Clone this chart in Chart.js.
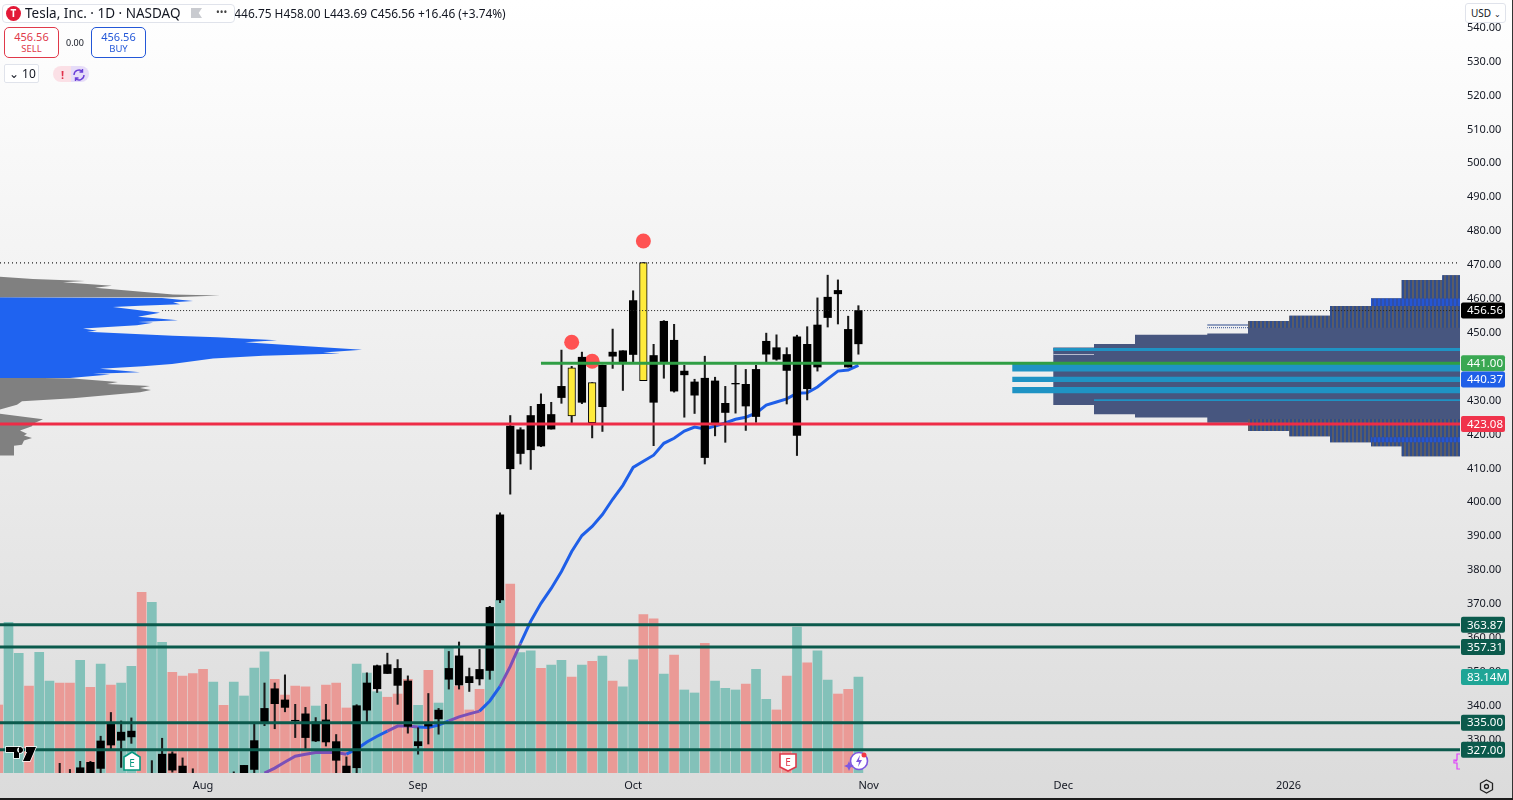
<!DOCTYPE html>
<html>
<head>
<meta charset="utf-8">
<title>Tesla, Inc. 1D</title>
<script src="https://cdn.jsdelivr.net/npm/chart.js@4/dist/chart.umd.min.js"></script>
<style>
  html, body { margin: 0; padding: 0; background: #fff; }
  body { width: 1513px; height: 800px; overflow: hidden; font-family: 'Noto Sans', sans-serif; color: #131722; }
  #wrap { position: relative; width: 1513px; height: 800px; overflow: hidden; background: linear-gradient(#ffffff, #dbdbdb); }
  #wrap::after { content: ''; position: absolute; left: 0; right: 0; bottom: 0; height: 2px; background: #1c1c1c; }
  #edge { position: absolute; top: 0; bottom: 0; right: 0; width: 1px; background: #333; }
  canvas { position: absolute; left: 0; top: 0; }
  .ui { position: absolute; white-space: nowrap; }
  #ohlc { left: 225px; top: 4px; font-size: 11.9px; line-height: 18px; }
  #title { left: 2px; top: 4px; width: 233px; height: 19px; background: #fff; border: 1px solid #e0e3eb; border-radius: 4px; box-sizing: border-box; font-size: 13.5px; line-height: 17px; }
  #title span.name { position: absolute; left: 22px; top: 0; }
  #logo { position: absolute; left: 3px; top: 1px; width: 15px; height: 15px; border-radius: 50%; background: #e31937; color: #fff; font-size: 10px; line-height: 15px; text-align: center; font-weight: 700; }
  #flag { position: absolute; left: 188px; top: 3px; width: 11px; height: 10px; background: #c9cbd0; clip-path: polygon(0 0, 100% 0, 70% 50%, 100% 100%, 0 100%); }
  #more { position: absolute; left: 213px; top: -1px; font-size: 10px; letter-spacing: 0; color: #444; }
  .trade { width: 55px; height: 31px; border: 1px solid; border-radius: 5px; background: #fff; box-sizing: border-box; text-align: center; font-size: 11px; line-height: 13px; padding-top: 2px; }
  .trade small { display: block; font-size: 9.5px; line-height: 12px; }
  #sell { left: 4px; top: 27px; border-color: #e0394a; color: #e0394a; }
  #buy { left: 91px; top: 27px; border-color: #2458d8; color: #2458d8; }
  #spread { left: 66px; top: 36px; font-size: 9px; }
  #qty { left: 4px; top: 64px; width: 35px; height: 19px; background: #fff; border: 1px solid #e0e3eb; border-radius: 2px; box-sizing: border-box; font-size: 12px; line-height: 17px; padding-left: 4px; }
  #pill { left: 53px; top: 66px; width: 36px; height: 16px; border-radius: 8px; background: linear-gradient(90deg, #fbe0e6 50%, #e6dcf8 50%); }
  #usd { left: 1465px; top: 3px; width: 41px; height: 20px; background: #fff; border: 1px solid #e0e3eb; border-radius: 3px; box-sizing: border-box; font-size: 10px; line-height: 18px; padding-left: 5px; }
</style>
</head>
<body>
<div id="wrap">
  <canvas id="chart" width="1513" height="800"></canvas>
  <div id="ohlc" class="ui">O446.75 H458.00 L443.69 C456.56 +16.46 (+3.74%)</div>
  <div id="title" class="ui"><div id="logo">T</div><span class="name">Tesla, Inc. · 1D · NASDAQ</span><div id="flag"></div><div id="more">•••</div></div>
  <div id="sell" class="ui trade">456.56<small>SELL</small></div>
  <div id="spread" class="ui">0.00</div>
  <div id="buy" class="ui trade">456.56<small>BUY</small></div>
  <div id="qty" class="ui">⌄ 10</div>
  <div id="pill" class="ui"><svg width="36" height="16"><text x="8" y="12" font-size="11" font-weight="700" fill="#e0304a" font-family="Noto Sans">!</text><path d="M21 8a5 5 0 0 1 8.5-3.5M31 8a5 5 0 0 1-8.5 3.5M29.5 2v3h-3M22.5 14v-3h3" fill="none" stroke="#6a3fd8" stroke-width="1.4"/></svg></div>
  <div id="usd" class="ui">USD <span style="font-size:8px">⌄</span></div>
  <svg class="ui" style="left:4px;top:745px" width="34" height="20"><path d="M2 2h13v11h-5V7H2z M22 2h10l-6 14h-7l4-9h-1z M16 2a3 3 0 1 0 .1 0" fill="#000" stroke="#fff" stroke-width="1.5" paint-order="stroke"/></svg>
  <svg class="ui" style="left:122px;top:751px" width="20" height="21"><path d="M10 1l8 5v13H2V6z" fill="#fff" stroke="#089981" stroke-width="1.6"/><text x="10" y="15.5" font-size="10" text-anchor="middle" fill="#089981" font-family="Noto Sans">E</text></svg>
  <svg class="ui" style="left:778px;top:752px" width="20" height="21"><path d="M2 2h16v13l-8 4-8-4z" fill="#fff" stroke="#e0394a" stroke-width="1.6"/><text x="10" y="14" font-size="10" text-anchor="middle" fill="#e0394a" font-family="Noto Sans">E</text></svg>
  <svg class="ui" style="left:844px;top:751px" width="26" height="22"><circle cx="15" cy="10" r="8.5" fill="#fff" stroke="#7e57e0" stroke-width="1.6"/><path d="M16 4l-4 7h3l-1 5 4-7h-3z" fill="#7e57e0"/><path d="M5 10l1.5 3.5L10 15l-3.5 1.5L5 20l-1.5-3.5L0 15l3.500-1.500z" fill="#7e57e0"/><circle cx="20" cy="4" r="2.500" fill="#f23645"/></svg>
  <svg class="ui" style="left:1452px;top:753px" width="10" height="18"><path d="M8 1H5v6H2v3h3v6h3M3 8h2" fill="none" stroke="#e040fb" stroke-width="1.200"/></svg>
  <svg class="ui" style="left:1479px;top:779px" width="15" height="15"><path d="M7.500 1l6 3.300v6.400l-6 3.300-6-3.300V4.300z" fill="none" stroke="#222" stroke-width="1.300"/><circle cx="7.500" cy="7.500" r="2" fill="none" stroke="#222" stroke-width="1.300"/></svg>
  <div id="edge"></div>
</div>
<script>
// bar index 0 is the first bar on screen, 84 is Oct 31
const xMin = 0.17, xMax = 142.75;
const priceMin = 320.15, priceMax = 548.17;
const volMax = 669.4;

const monthTicks = [20, 41, 62, 85, 104, 126];
const monthLabels = ['Aug', 'Sep', 'Oct', 'Nov', 'Dec', '2026'];

const volumes = [58.9,130.5,103.7,75.3,104.5,79.7,77.9,77.9,97.6,74.2,94.4,76.2,77.9,92.4,156.5,147.8,113.2,87.2,84,86,89.8,78.8,58.6,78.8,66.7,90.9,105,81.1,67.5,75.3,74.7,58,76.2,77.9,56.3,94.4,86.6,70.4,65.6,68.4,81.1,58.6,88.9,60.6,108,75.3,54.6,72.5,112.6,149.8,163.7,104.2,105.9,90.7,93.5,97.6,83.1,93.5,96.7,101.3,79.7,74.7,98.1,137.1,133.4,85.7,102.2,71.9,69.3,112.3,79.7,73.4,71.9,77.1,89.8,63.8,54.6,84,126.4,95.3,105.9,80.5,68.4,72.5,83.14];
const volDirList = 'd uu d uu dd u d u d uu d uu dddd u d uuuu dddd u ddd uuu ddd u d uu ddd uu d uu d uu d u d u d uu dd u d uu d uuu d uu dd u d uu dd u'.replace(/\s/g, '').split('');

const highs = [null,null,null,null,null,null,323,321.2,323.6,323.6,331,338,335.5,336.4,null,323.8,330.4,326.4,324.6,321.4,null,null,null,320.5,322.4,335.1,346.7,346.7,349.1,340.4,339.5,336.5,340.4,331.5,324.9,340.3,349.7,352,355.5,353.6,348.8,333.5,343.6,339.2,356,358.8,351.1,356.6,369.3,396.9,425.6,422,428.3,432,429.5,444.9,440.1,444.3,435.3,440.5,451.1,444.7,462.4,470.7,446.6,453.6,452.5,440.4,436.3,443.1,436.9,434.2,440.4,439.2,440.4,449.9,449.4,445.6,449.3,451.8,460.3,467,465.6,454.9,458];
const bodyTops = [null,null,null,null,null,null,null,null,321.7,323.3,329.6,334.6,332.2,332.5,null,null,325.7,325.8,322.2,null,null,null,null,null,322.4,329.7,339.2,345,341.7,335.7,337.6,335.2,335.8,329.4,322.2,340,346.7,351.8,352.1,351,347.3,329.4,335.1,338.7,351,354.7,348.6,350.7,369,396.3,422.5,421.4,425.6,428.9,425.9,434.2,439.7,442.8,435.3,440.4,444.3,444.7,459.5,470.7,443.3,453.4,447.8,438.7,435.5,436.6,435.8,429.2,435.1,434.8,439.2,447.5,445.6,443.6,448.8,446.6,452.3,460.5,462.5,451,456.56];
const bodyBottoms = [null,null,null,null,null,null,null,null,319,319,321.5,328.4,329.8,330.8,null,null,319,321,316,null,null,null,null,null,320,321.2,334.8,340.6,339.5,335.5,330.6,329.6,329.3,323.9,320.2,321.7,338.7,345,349.5,346,333.9,328.2,334,336.1,347.8,346.1,346.8,347.9,350.4,371.2,409.9,414.4,415.5,416.6,421.6,430.9,425.5,429.5,423.5,428.2,443.1,441.5,443.6,435.9,429.5,441.5,432.8,437.6,431.6,413.2,423.4,426.5,434.9,428.4,425.3,443.7,442.2,438.9,419.7,433.5,439.9,454.5,461.5,439.9,446.75];
const lows = [null,null,null,null,null,null,319,319,317,317,320,327.1,321.8,328.9,null,319,317,320.4,312,319,null,null,null,319,319,320,334.1,333.2,338.2,330.6,326.9,329.4,328.1,320,318,320,335.2,343.9,349.5,340.4,331.9,325.7,328.7,331.6,344.9,344.9,344.2,346.1,347.8,370.4,402.4,411.3,409.7,416.4,421.6,429.2,423.5,429.1,419,420.9,439.5,433,441.3,435.9,416.7,436.6,432.5,425.1,426.2,411.3,419.6,417.7,426.3,421.2,423.6,441.1,441.9,429,413.8,430.2,438.7,451.7,452.6,439.9,443.69];
const yellowBars = [56, 58, 63];

// 20 period average, starts where it comes into view
const maStart = 26;
const maValues = [320.1,321.6,323.4,325.1,325.7,326.2,326.3,326.2,325.7,327.2,329.3,331,332.5,334,334,333.7,333.6,334.3,335.5,336.7,337.6,338.4,341.4,345.7,351.6,358.4,364.9,370.2,374.6,379.6,385.5,390.2,392.9,396.4,400.9,405,410.3,412.1,413.9,417.4,418.9,421,422.2,421.6,422.5,423.4,424.5,425.1,426.3,428.7,429.6,430.5,432.2,432.3,434,436.4,438.7,439,440.37];
const maPurple = [[26, 34], [38, 41], [44, 47], [49, 51]];

const signalX = [56, 58, 63];
const signalY = [447.2, 441.6, 477.1];

// left side volume profile, price and width of each outline point
const profTopPrices = [466.5,465.9,465.6,465.3,464.9,463.9,463.3,462.3,461.3,461,460.5,460.5];
const profTopWidths = [0,33,60,85,63,112,95,133,173,220,173,0];
const profBluePrices = [460.5,460.3,459.4,459,458.4,458,457.6,455.9,454.7,453.7,453.2,453,452.2,451.3,450.6,450.3,449.1,448.7,447.8,447.2,446,445,444.2,443.9,443.2,442.4,440.8,440.1,439.4,438.4,437.9,437.7,436.7,436.7];
const profBlueWidths = [0,162,193,173,180,140,113,160,138,178,138,153,137,83,97,87,173,217,277,245,307,362,323,340,263,213,172,143,100,140,93,110,70,0];
const profMidPrices = [436.9,436.5,435.5,434.9,434.3,433.7,433.1,432.5,430.7,429.8,428.8,427.4];
const profMidWidths = [0,73,118,107,150,140,151,140,73,22,17,0];
const profLowPrices = [426.1,424.5,423.2,422.4,421.2,420.2,419.7,419,418.2,417,416.7,413.8,413.8];
const profLowWidths = [0,43,33,32,20,27,24,32,24,22,14,14,0];

// right side fixed range profile, narrowest column first
const fixedWidths = [17.7,58.3,89,130,170.7,212,252.7,325,366,406.7];
const fixedTops = [467,465.6,460.1,457.9,455,453.5,449.8,449.4,446.7,445.7];
const fixedBottoms = [413.6,416.5,417.7,419.5,421,423.5,425,426,428.7,430.1];
const bandTops = [445.5,441.3,437,434,430.4];
const bandBottoms = [444.6,438.6,435.5,432.2,429.9];
const bandWidths = [406.7,447.7,447.7,447.7,366];
const stripeSplitTop = 451.5, stripeSplitBottom = 424.6;
const hotTops = [460.1, 419.2], hotBottoms = [457.9, 417.7], hotWidth = 89;

const greenLevel = 441, redLevel = 423.08;
const tealLevels = [363.87, 357.31, 335, 327];
const highLevel = 470.6, lastPrice = 456.56;
const greenFrom = 53, lastFrom = 16;

const tagValues = [456.56, 441, 440.37, 423.08, 363.87, 357.31, 335, 327];
const tagColors = ['#000000', '#3aa853', '#1f5fe8', '#f0334b', '#0b5a4c', '#0b5a4c', '#0b5a4c', '#0b5a4c'];
const tagShifts = [0, 0, 14, 0, 0, 0, 0, 0];

const stripes = (a, b) => {
  const c = document.createElement('canvas');
  c.width = 4; c.height = 4;
  const g = c.getContext('2d');
  g.fillStyle = a; g.fillRect(0, 0, 4, 4);
  g.fillStyle = b; g.fillRect(0, 0, 2, 4);
  return g.createPattern(c, 'repeat');
};

const ctx = document.getElementById('chart').getContext('2d');
const gridStripe = stripes('#2f4d8e', '#5a5c66');
const hotStripe = stripes('#2456d4', '#2f4fa8');

const bars = [];
highs.forEach((h, i) => { if (h !== null) bars.push(i); });
const bodies = bars.filter(i => bodyTops[i] !== null);

const outline = (prices, widths) => prices.map((p, i) => ({ x: widths[i], y: p }));

// stepped outline for the right side profile
const stepShape = (widths, tops, bottoms) => {
  const pts = [{ x: 0, y: tops[0] }];
  widths.forEach((w, j) => {
    pts.push({ x: w, y: tops[j] });
    if (j < widths.length - 1) pts.push({ x: w, y: tops[j + 1] });
  });
  for (let j = widths.length - 1; j >= 0; j--) {
    pts.push({ x: widths[j], y: bottoms[j] });
    if (j > 0) pts.push({ x: widths[j], y: bottoms[j - 1] });
  }
  pts.push({ x: 0, y: bottoms[0] });
  return pts;
};

const shape = (data, color, xAxisID, order) => ({
  type: 'scatter', showLine: true, fill: 'shape', data, xAxisID, yAxisID: 'y',
  backgroundColor: color, borderWidth: 0, pointRadius: 0, order
});

const level = (price, from, to, color, width, order, dash) => ({
  type: 'line', data: [{ x: from, y: price }, { x: to, y: price }],
  borderColor: color, borderWidth: width, borderDash: dash || [], pointRadius: 0, fill: false, order
});

const datasets = [
  shape(outline(profTopPrices, profTopWidths), '#808080', 'pl', 100),
  shape(outline(profBluePrices, profBlueWidths), '#1f63f0', 'pl', 100),
  shape(outline(profMidPrices, profMidWidths), '#808080', 'pl', 100),
  shape(outline(profLowPrices, profLowWidths), '#808080', 'pl', 100),
  shape(stepShape(fixedWidths, fixedTops, fixedBottoms), '#47567f', 'pr', 99),
  shape(stepShape(fixedWidths.slice(0, 6), fixedTops.slice(0, 6), fixedWidths.slice(0, 6).map(() => stripeSplitTop)), gridStripe, 'pr', 98),
  shape(stepShape(fixedWidths.slice(0, 6), fixedWidths.slice(0, 6).map(() => stripeSplitBottom), fixedBottoms.slice(0, 6)), gridStripe, 'pr', 98)
];

bandTops.forEach((t, j) => {
  datasets.push(shape(stepShape([bandWidths[j]], [t], [bandBottoms[j]]), '#1f93c4', 'pr', 97));
});
hotTops.forEach((t, j) => {
  datasets.push(shape(stepShape([hotWidth], [t], [hotBottoms[j]]), hotStripe, 'pr', 97));
});

datasets.push(
  {
    type: 'line', xAxisID: 'pr', data: [{ x: 212, y: 452.3 }, { x: 252.7, y: 452.3 }],
    borderColor: '#2f4d8e', borderWidth: 1, pointRadius: 0, order: 96
  },
  {
    type: 'line', xAxisID: 'pr', data: [{ x: 212, y: 451.5 }, { x: 252.7, y: 451.5 }],
    borderColor: '#2f4d8e', borderWidth: 1, borderDash: [1, 1], pointRadius: 0, order: 96
  },
  {
    type: 'line', xAxisID: 'pr', data: [{ x: 366, y: 443.6 }, { x: 406.7, y: 443.6 }],
    borderColor: '#b9bdd0', borderWidth: 1, pointRadius: 0, order: 96
  },
  {
    type: 'bar', yAxisID: 'vol', grouped: false, barThickness: 9, order: 90,
    data: volumes.map((v, i) => ({ x: i, y: v })),
    backgroundColor: volDirList.map(d => d === 'u' ? '#83c1b9' : '#ea9a96'),
    borderWidth: 0
  },
  {
    type: 'scatter', data: signalX.map((x, i) => ({ x, y: signalY[i] })),
    backgroundColor: '#ff5252', borderWidth: 0, pointRadius: 7.5, order: 80
  },
  {
    type: 'line', data: maValues.map((v, i) => ({ x: maStart + i, y: v })),
    borderColor: '#1f5fe8', borderWidth: 3, pointRadius: 0, fill: false, order: 70,
    segment: {
      borderColor: c => {
        const i = maStart + c.p0DataIndex;
        return maPurple.some(r => i >= r[0] && i < r[1]) ? '#7a50b8' : '#1f5fe8';
      }
    }
  },
  {
    type: 'bar', grouped: false, barThickness: 1.4, order: 60,
    data: bars.map(i => ({ x: i, y: [lows[i], highs[i]] })),
    backgroundColor: '#1a1a1a', borderWidth: 0
  },
  {
    type: 'bar', grouped: false, barThickness: 7.6, order: 59,
    data: bodies.map(i => ({ x: i, y: [bodyBottoms[i], bodyTops[i]] })),
    backgroundColor: bodies.map(i => yellowBars.includes(i) ? '#ffeb3b' : '#000000'),
    borderColor: '#000000',
    borderWidth: bodies.map(i => yellowBars.includes(i) ? 1 : 0),
    borderSkipped: false
  },
  level(highLevel, xMin, xMax, '#222222', 1.2, 50, [1, 3]),
  level(lastPrice, lastFrom, xMax, '#222222', 1, 50, [1, 2]),
  level(greenLevel, greenFrom, xMax, '#2f9e44', 3, 40),
  level(redLevel, xMin, xMax, '#ee2c47', 3, 40)
);
tealLevels.forEach(p => datasets.push(level(p, xMin, xMax, '#0b5a4c', 3, 41)));

const priceTags = {
  id: 'priceTags',
  afterDraw(chart) {
    const g = chart.ctx;
    const y = chart.scales.y;
    const tag = (text, py, color, w) => {
      g.fillStyle = color;
      g.beginPath();
      g.roundRect(1461, py - 8, w, 16, 2);
      g.fill();
      g.fillStyle = '#ffffff';
      g.font = '11.5px "Noto Sans"';
      g.textAlign = 'left';
      g.textBaseline = 'middle';
      g.fillText(text, 1467, py + 0.5);
    };
    tagValues.forEach((v, i) => {
      tag(v.toFixed(2), y.getPixelForValue(v) + tagShifts[i], tagColors[i], 44);
    });
    tag('83.14M', chart.scales.vol.getPixelForValue(volumes[84]), '#1fa596', 48);
  }
};

new Chart(ctx, {
  type: 'bar',
  data: { datasets },
  plugins: [priceTags],
  options: {
    responsive: false,
    animation: false,
    layout: { padding: 0, autoPadding: false },
    plugins: { legend: { display: false }, tooltip: { enabled: false }, title: { display: false } },
    scales: {
      x: {
        type: 'linear', min: xMin, max: xMax, offset: false, position: 'bottom',
        grid: { display: false, drawTicks: false }, border: { display: false },
        afterBuildTicks: s => { s.ticks = monthTicks.map(value => ({ value })); },
        afterFit: s => { s.height = 27; s.paddingLeft = 0; s.paddingRight = 0; },
        ticks: {
          autoSkip: false, maxRotation: 0, padding: 6, color: '#131722',
          font: { family: 'Noto Sans', size: 11 },
          callback: v => monthLabels[monthTicks.indexOf(v)]
        }
      },
      y: {
        type: 'linear', min: priceMin, max: priceMax, position: 'right',
        grid: { display: false, drawTicks: false }, border: { display: false },
        afterFit: s => { s.width = 53; s.paddingTop = 0; s.paddingBottom = 0; },
        ticks: {
          stepSize: 10, includeBounds: false, autoSkip: false, padding: 7, color: '#131722',
          font: { family: 'Noto Sans', size: 11 },
          callback: v => v.toFixed(2)
        }
      },
      vol: { type: 'linear', axis: 'y', min: 0, max: volMax, display: false, ticks: { display: false } },
      pl: { type: 'linear', axis: 'x', position: 'bottom', min: 0, max: 1460, offset: false, display: false, ticks: { display: false } },
      pr: { type: 'linear', axis: 'x', position: 'bottom', min: 0, max: 1460, offset: false, reverse: true, display: false, ticks: { display: false } }
    }
  }
});
</script>
</body>
</html>
